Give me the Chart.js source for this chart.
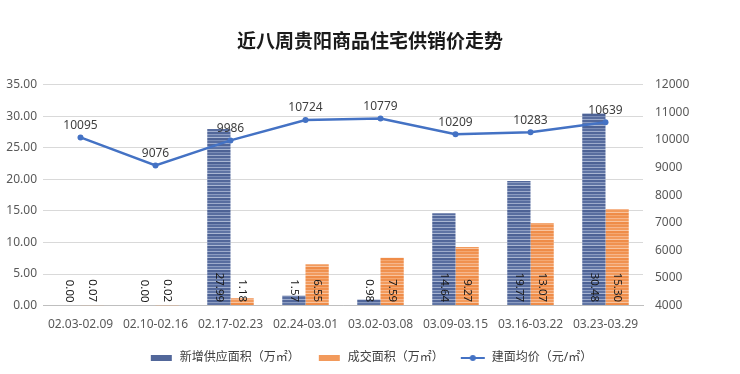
<!DOCTYPE html>
<html>
<head>
<meta charset="utf-8">
<script src="https://cdn.jsdelivr.net/npm/chart.js@4.4.0/dist/chart.umd.min.js"></script>
<style>
  html, body { margin: 0; padding: 0; background: #fff; }
  #wrap { width: 740px; height: 374px; }
</style>
</head>
<body>
<div id="wrap"><canvas id="myChart" width="740" height="374"></canvas></div>
<script>
// chart data
const weeks = ["02.03-02.09", "02.10-02.16", "02.17-02.23", "02.24-03.01", "03.02-03.08", "03.09-03.15", "03.16-03.22", "03.23-03.29"];
const newSupply = [0.00, 0.00, 27.99, 1.57, 0.98, 14.64, 19.77, 30.48];   // 万㎡
const dealArea = [0.07, 0.02, 1.18, 6.55, 7.59, 9.27, 13.07, 15.30];      // 万㎡
const avgPrice = [10095, 9076, 9986, 10724, 10779, 10209, 10283, 10639];  // 元/㎡

const FONT = "'Noto Sans', 'Noto Sans CJK SC', sans-serif";
const TEXT = "#595959";

// striped fill like the original bars
function stripes(colors, heights) {
  const c = document.createElement("canvas");
  const total = heights.reduce((a, b) => a + b, 0);
  c.width = 4; c.height = total;
  const g = c.getContext("2d");
  let y = 0;
  colors.forEach((col, i) => { g.fillStyle = col; g.fillRect(0, y, 4, heights[i]); y += heights[i]; });
  return g.createPattern(c, "repeat");
}
const ctx = document.getElementById("myChart").getContext("2d");
const bluePat = stripes(["#52679a", "#8c9cc1", "#5f74a4", "#a9b6d2", "#4d6295", "#7a8cb6", "#586d9f", "#9dabcb"], [2, 1, 2, 1, 2, 1, 2, 1]);
const orangePat = stripes(["#f0914f", "#f6b68c", "#f29a5c", "#f8c49f", "#ef8c48", "#f4a872"], [2, 1, 2, 1, 2, 1]);

// small legend icons
function icon(draw) {
  const c = document.createElement("canvas");
  c.width = 26; c.height = 10;
  draw(c.getContext("2d"));
  return c;
}
const blueIcon = icon(g => { g.fillStyle = "#52679a"; g.fillRect(3, 2, 21, 6); });
const orangeIcon = icon(g => { g.fillStyle = "#f29a5c"; g.fillRect(3, 2, 21, 6); });
const lineIcon = icon(g => {
  g.strokeStyle = "#4472c4"; g.lineWidth = 2;
  g.beginPath(); g.moveTo(1, 5); g.lineTo(25, 5); g.stroke();
  g.fillStyle = "#4472c4"; g.beginPath(); g.arc(13, 5, 3, 0, Math.PI * 2); g.fill();
});

// value labels: vertical ones at the foot of the bars, plain ones above line points
const valueLabels = {
  id: "valueLabels",
  afterDatasetsDraw(chart) {
    const c = chart.ctx;
    c.save();
    c.fillStyle = "#1a1a1a";
    c.font = "11.5px " + FONT;
    [0, 1].forEach(di => {
      const meta = chart.getDatasetMeta(di);
      meta.data.forEach((bar, i) => {
        c.save();
        c.translate(bar.x, bar.base - 3);
        c.rotate(Math.PI / 2);
        c.textAlign = "right";
        c.textBaseline = "middle";
        c.fillText(chart.data.datasets[di].data[i].toFixed(2), 0, 0);
        c.restore();
      });
    });
    const lm = chart.getDatasetMeta(2);
    c.fillStyle = "#404040";
    c.textAlign = "center";
    c.textBaseline = "bottom";
    c.font = "12px " + FONT;
    lm.data.forEach((pt, i) => {
      c.fillText(String(avgPrice[i]), pt.x, pt.y - 6);
    });
    c.restore();
  }
};

const chart = new Chart(ctx, {
  data: {
    labels: weeks,
    datasets: [
      { type: "bar", label: "新增供应面积（万㎡）", data: newSupply, backgroundColor: bluePat, yAxisID: "y", order: 2,
        categoryPercentage: 0.62, barPercentage: 1.0 },
      { type: "bar", label: "成交面积（万㎡）", data: dealArea, backgroundColor: orangePat, yAxisID: "y", order: 2,
        categoryPercentage: 0.62, barPercentage: 1.0 },
      { type: "line", label: "建面均价（元/㎡）", data: avgPrice, borderColor: "#4472c4", backgroundColor: "#4472c4",
        borderWidth: 2.5, pointRadius: 3, pointBorderWidth: 0, pointHoverRadius: 3, yAxisID: "y1", order: 1, tension: 0 }
    ]
  },
  options: {
    responsive: false,
    animation: false,
    layout: { padding: { left: 0, right: 0, bottom: 0 } },
    scales: {
      x: {
        grid: { display: false },
        border: { color: "#bfbfbf" },
        ticks: { color: TEXT, font: { family: FONT, size: 12 }, maxRotation: 0, padding: 4 }
      },
      y: {
        position: "left",
        min: 0, max: 35,
        afterFit(scale) { scale.width = 43; },
        ticks: { stepSize: 5, color: TEXT, font: { family: FONT, size: 12 }, padding: 6,
          callback: v => v.toFixed(2) },
        grid: { color: "#d9d9d9", drawTicks: false },
        border: { display: false }
      },
      y1: {
        position: "right",
        min: 4000, max: 12000,
        afterFit(scale) { scale.width = 97; },
        ticks: { stepSize: 1000, color: TEXT, font: { family: FONT, size: 12 }, padding: 12,
          callback: v => String(v) },
        grid: { drawOnChartArea: false, drawTicks: false },
        border: { display: false }
      }
    },
    plugins: {
      title: {
        display: true,
        text: "近八周贵阳商品住宅供销价走势",
        color: "#1a1a1a",
        font: { family: "'Noto Sans CJK SC', sans-serif", size: 19, weight: "bold" },
        padding: { top: 29, bottom: 33 }
      },
      legend: {
        position: "bottom",
        labels: {
          color: "#404040",
          font: { family: FONT, size: 12 },
          usePointStyle: true,
          pointStyleWidth: 26,
          boxHeight: 10,
          padding: 16,
          generateLabels(chart) {
            const icons = [blueIcon, orangeIcon, lineIcon];
            return chart.data.datasets.map((ds, i) => ({
              text: ds.label, pointStyle: icons[i], fontColor: "#404040", datasetIndex: i,
              hidden: false, lineWidth: 0, strokeStyle: "transparent", fillStyle: "transparent"
            }));
          }
        }
      },
      tooltip: { enabled: false }
    }
  },
  plugins: [valueLabels]
});
</script>
</body>
</html>
